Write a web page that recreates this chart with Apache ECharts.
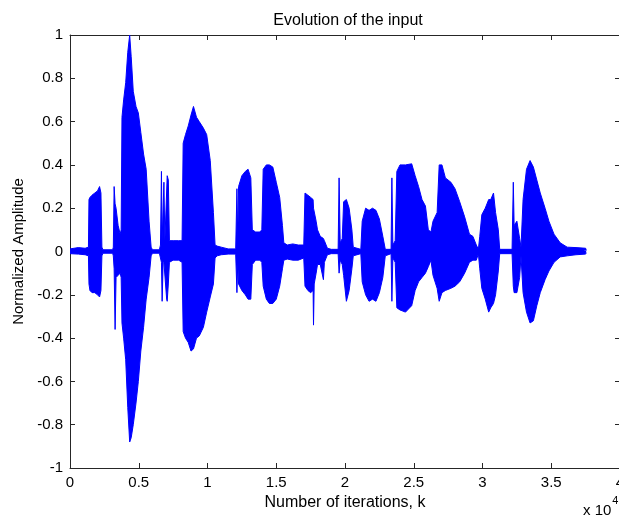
<!DOCTYPE html>
<html>
<head>
<meta charset="utf-8">
<title>Evolution of the input</title>
<script src="https://cdn.jsdelivr.net/npm/echarts@6/dist/echarts.min.js"></script>
<style>
  html, body { margin: 0; padding: 0; background: #fff; }
  #chart { width: 619px; height: 521px; }
</style>
</head>
<body>
<div id="chart"></div>
<script>
// waveform envelope: iteration k, upper and lower amplitude
const sampleK = [
  0, 600, 1100, 1340,
  1380, 1450, 1600, 1800, 2000, 2150, 2250, 2320, 2400, 3100,
  3150, 3210, 3280, 3350, 3500, 3650, 3720,
  3780, 3900, 4050, 4200, 4340, 4450, 4600, 4800, 4970, 5150, 5350, 5540, 5750, 5900, 6000, 6500,
  6580, 6650, 6700, 6780, 6830, 6900, 7030, 7070, 7150, 7230, 7500, 7900, 8150,
  8230, 8400, 8600, 8800, 8980, 9200, 9400, 9700, 9940, 10200, 10430, 10550,
  10700, 11000, 11500, 12050,
  12140, 12200, 12260, 12500, 12750, 12950, 13150, 13260, 13500, 13800, 13950,
  14050, 14280, 14500, 14750, 15000, 15250, 15450, 15550,
  15800, 16200, 16600, 17000,
  17090, 17300, 17500, 17680, 17710, 17760, 17900, 18000, 18200, 18430, 18500, 18720,
  19000, 19500, 19570, 19650, 19800,
  19900, 20100, 20300, 20500, 20600, 21150,
  21250, 21500, 21750, 22000, 22250, 22500, 22750, 22930, 23350,
  23410, 23480, 23650,
  23770, 24000, 24400, 24850, 25100, 25350, 25600, 25850, 26060, 26250,
  26400, 26700, 26850, 27050, 27300, 27700, 28000, 28340, 28700, 29050, 29300, 29550, 29700,
  29800, 29950, 30200, 30450, 30600, 30800, 30950, 31150, 31250, 32150,
  32240, 32300, 32500, 32700, 32800,
  32950, 33200, 33460, 33700, 33950, 34200, 34550, 34830, 35200, 35650, 36160, 36800, 37500, 37550
];
const upperEnv = [
  0.012, 0.018, 0.015, 0.02,
  0.24, 0.25, 0.26, 0.27, 0.28, 0.30, 0.27, 0.02, 0.008, 0.008,
  0.02, 0.30, 0.22, 0.20, 0.12, 0.08, 0.10,
  0.62, 0.70, 0.78, 0.92, 1.00, 0.90, 0.74, 0.67, 0.64, 0.55, 0.45, 0.38, 0.14, 0.02, 0.008, 0.008,
  0.03, 0.37, 0.05, 0.05, 0.32, 0.05, 0.05, 0.35, 0.33, 0.05, 0.05, 0.05, 0.05,
  0.50, 0.54, 0.58, 0.63, 0.67, 0.62, 0.60, 0.57, 0.54, 0.42, 0.18, 0.03,
  0.025, 0.02, 0.012, 0.012,
  0.29, 0.05, 0.30, 0.35, 0.37, 0.38, 0.34, 0.10, 0.09, 0.09, 0.10,
  0.38, 0.40, 0.40, 0.39, 0.32, 0.25, 0.12, 0.04,
  0.03, 0.035, 0.03, 0.03,
  0.27, 0.26, 0.25, 0.24, 0.20, 0.20, 0.14, 0.10, 0.07, 0.06, 0.05, 0.015,
  0.01, 0.01, 0.34, 0.04, 0.06,
  0.23, 0.24, 0.20, 0.10, 0.02, 0.01,
  0.14, 0.20, 0.19, 0.20, 0.19, 0.15, 0.07, 0.01, 0.01,
  0.34, 0.03, 0.05,
  0.37, 0.40, 0.40, 0.405, 0.35, 0.30, 0.24, 0.21, 0.10, 0.09,
  0.14, 0.18, 0.40, 0.40, 0.34, 0.32, 0.29, 0.23, 0.16, 0.08, 0.07, 0.03, 0.01,
  0.07, 0.17, 0.20, 0.24, 0.24, 0.27, 0.18, 0.10, 0.01, 0.01,
  0.32, 0.12, 0.14, 0.06, 0.02,
  0.24, 0.38, 0.42, 0.39, 0.33, 0.27, 0.20, 0.14, 0.08, 0.04, 0.02, 0.018, 0.015, 0.005
];
const lowerEnv = [
  -0.010, -0.012, -0.015, -0.02,
  -0.15, -0.18, -0.19, -0.19, -0.20, -0.21, -0.18, -0.02, -0.008, -0.008,
  -0.02, -0.08, -0.36, -0.12, -0.11, -0.10, -0.12,
  -0.33, -0.40, -0.50, -0.72, -0.88, -0.86, -0.80, -0.70, -0.60, -0.46, -0.35, -0.22, -0.12, -0.02, -0.008, -0.008,
  -0.03, -0.05, -0.23, -0.04, -0.05, -0.05, -0.22, -0.23, -0.15, -0.05, -0.04, -0.04, -0.05,
  -0.37, -0.40, -0.42, -0.46, -0.45, -0.40, -0.39, -0.35, -0.28, -0.21, -0.15, -0.03,
  -0.02, -0.015, -0.012, -0.012,
  -0.19, -0.05, -0.15, -0.18, -0.20, -0.22, -0.22, -0.06, -0.04, -0.04, -0.05,
  -0.16, -0.22, -0.24, -0.24, -0.22, -0.16, -0.08, -0.04,
  -0.035, -0.04, -0.04, -0.03,
  -0.16, -0.18, -0.19, -0.18, -0.34, -0.15, -0.10, -0.06, -0.06, -0.13, -0.05, -0.015,
  -0.01, -0.01, -0.10, -0.04, -0.06,
  -0.11, -0.23, -0.18, -0.08, -0.02, -0.01,
  -0.14, -0.20, -0.23, -0.22, -0.23, -0.19, -0.12, -0.02, -0.01,
  -0.23, -0.03, -0.05,
  -0.26, -0.27, -0.28, -0.25, -0.18, -0.14, -0.12, -0.10, -0.07, -0.04,
  -0.11, -0.17, -0.23, -0.19, -0.18, -0.17, -0.16, -0.14, -0.10, -0.05, -0.04, -0.04, -0.01,
  -0.08, -0.17, -0.22, -0.28, -0.26, -0.24, -0.20, -0.09, -0.01, -0.01,
  -0.16, -0.19, -0.19, -0.12, -0.02,
  -0.19, -0.28, -0.33, -0.32, -0.25, -0.19, -0.13, -0.09, -0.05, -0.025, -0.02, -0.015, -0.012, -0.005
];
const xTicks = [0, 5000, 10000, 15000, 20000, 25000, 30000, 35000, 40000];
const yTicks = [-1, -0.8, -0.6, -0.4, -0.2, 0, 0.2, 0.4, 0.6, 0.8, 1];

const chart = echarts.init(document.getElementById('chart'));
const font = 'Liberation Sans, Arial, sans-serif';
const waveColor = '#0000ff';

const boxAxis = {
  axisLine: { show: true, onZero: false, lineStyle: { color: '#262626', width: 1 } },
  axisTick: { show: true, inside: true, length: 5, lineStyle: { color: '#262626' } },
  splitLine: { show: false }
};

// the two halves overlap a hair past zero so no seam shows
function envSeries(values, origin) {
  return {
    type: 'line',
    data: sampleK.map((k, i) => [k, values[i]]),
    showSymbol: false,
    symbol: 'none',
    lineStyle: { color: waveColor, width: 1 },
    areaStyle: { color: waveColor, opacity: 1, origin: origin },
    silent: true
  };
}

chart.setOption({
  animation: false,
  backgroundColor: '#fff',
  title: {
    text: 'Evolution of the input',
    left: 343, top: 8, textAlign: 'center',
    textStyle: { fontFamily: font, fontSize: 16, fontWeight: 'normal', color: '#000' }
  },
  grid: { left: 70, top: 35, width: 550, height: 433, containLabel: false, outerBoundsMode: 'none' },
  xAxis: [
    Object.assign({
      type: 'value', position: 'bottom',
      min: xTicks[0], max: xTicks[xTicks.length - 1], interval: xTicks[1] - xTicks[0],
      name: 'Number of iterations, k', nameLocation: 'middle', nameGap: 24,
      nameTextStyle: { fontFamily: font, fontSize: 16, color: '#000' },
      axisLabel: { fontFamily: font, fontSize: 15, color: '#000', margin: 7, formatter: v => String(v / 10000) }
    }, boxAxis),
    Object.assign({
      type: 'value', position: 'top',
      min: xTicks[0], max: xTicks[xTicks.length - 1], interval: xTicks[1] - xTicks[0],
      axisLabel: { show: false }
    }, boxAxis)
  ],
  yAxis: [
    Object.assign({
      type: 'value', position: 'left',
      min: yTicks[0], max: yTicks[yTicks.length - 1], interval: 0.2,
      name: 'Normalized Amplitude', nameLocation: 'middle', nameGap: 40,
      nameTextStyle: { fontFamily: font, fontSize: 15, color: '#000' },
      axisLabel: { fontFamily: font, fontSize: 15, color: '#000', margin: 7,
        formatter: v => String(Math.round(v * 10) / 10) }
    }, boxAxis),
    Object.assign({
      type: 'value', position: 'right',
      min: yTicks[0], max: yTicks[yTicks.length - 1], interval: 0.2,
      axisLabel: { show: false }
    }, boxAxis)
  ],
  graphic: [{
    type: 'text', left: 583, top: 495,
    style: {
      text: '{b|x 10}{s|4}',
      rich: {
        b: { fontFamily: font, fontSize: 15, fill: '#000', verticalAlign: 'bottom' },
        s: { fontFamily: font, fontSize: 11, fill: '#000', verticalAlign: 'top', padding: [0, 0, 12, 1] }
      }
    }
  }],
  series: [envSeries(upperEnv, -0.004), envSeries(lowerEnv, 0.004)]
});
</script>
</body>
</html>
